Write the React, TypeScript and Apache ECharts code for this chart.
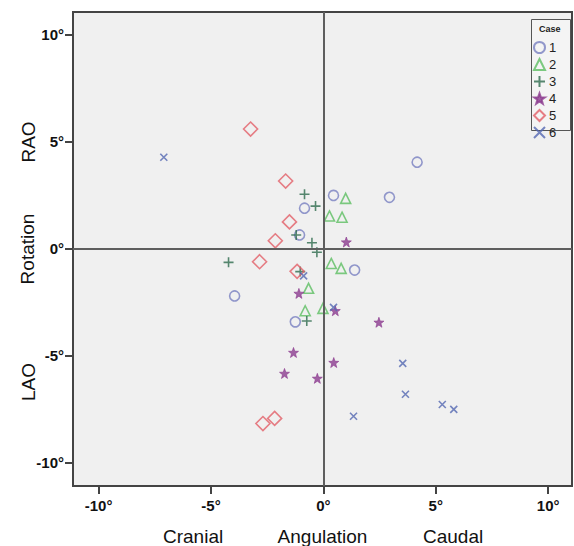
import React, { useEffect, useRef } from "react";
import * as echarts from "echarts";

const caseNames = ["1", "2", "3", "4", "5", "6"];
const tickValues = [-10, -5, 0, 5, 10];

const case1 = [[4.17, 4.05], [2.94, 2.41], [0.45, 2.5], [-0.84, 1.9], [-1.06, 0.65], [1.39, -0.99], [-3.95, -2.2], [-1.25, -3.41]];
const case2 = [[0.99, 2.36], [0.27, 1.54], [0.83, 1.48], [0.35, -0.68], [0.79, -0.91], [-0.66, -1.84], [-0.81, -2.89], [-0.02, -2.78]];
const case3 = [[-0.84, 2.55], [-0.35, 2.0], [-1.21, 0.65], [-0.51, 0.29], [-0.29, -0.16], [-4.22, -0.63], [-1.03, -1.06], [-0.74, -3.37]];
const case4 = [[1.02, 0.32], [-1.09, -2.08], [0.53, -2.89], [2.47, -3.43], [-1.33, -4.84], [-1.73, -5.82], [-0.27, -6.05], [0.46, -5.31]];
const case5 = [[-3.24, 5.6], [-1.68, 3.17], [-1.51, 1.26], [-2.14, 0.38], [-2.84, -0.6], [-1.17, -1.05], [-2.69, -8.16], [-2.17, -7.92]];
const case6 = [[-7.1, 4.28], [3.53, -5.35], [3.65, -6.79], [1.34, -7.82], [5.29, -7.27], [5.8, -7.5], [0.45, -2.73], [-0.88, -1.26]];

const caseData = [case1, case2, case3, case4, case5, case6];
const caseColors = ["#7880C0", "#5DBE62", "#2E6B4E", "#8C3C90", "#E25F68", "#5468B2"];
const caseSymbols = [
  "circle",
  "triangle",
  "path://M5,0L5,10M0,5L10,5",
  "path://M5,0L6.2,3.4L9.8,3.5L6.9,5.7L7.9,9.1L5,7.1L2.1,9.1L3.1,5.7L0.2,3.5L3.8,3.4Z",
  "diamond",
  "path://M0,0L10,10M10,0L0,10",
];
const caseSizes = [10, 10, 10, 10, 14, 7];
const caseFilled = [false, false, false, true, false, false];

const FONT = "Liberation Sans, Arial, sans-serif";

export default function App() {
  const ref = useRef<HTMLDivElement>(null);
  useEffect(() => {
    if (!ref.current) return;
    const chart = echarts.init(ref.current, null, { renderer: "svg" });
    const series: any[] = caseNames.map((name, i) => ({
      name,
      type: "scatter",
      data: caseData[i],
      symbol: caseSymbols[i],
      symbolSize: caseSizes[i],
      z: 3,
      itemStyle: caseFilled[i]
        ? { color: caseColors[i], borderColor: caseColors[i], borderWidth: 0.8 }
        : { color: "transparent", borderColor: caseColors[i], borderWidth: 1.6 },
    }));
    series.push({
      name: "ref",
      type: "scatter",
      data: [],
      z: 1,
      silent: true,
      markLine: {
        silent: true,
        symbol: "none",
        label: { show: false },
        lineStyle: { color: "#5E5E5E", width: 2, type: "solid" },
        data: [{ xAxis: 0 }, { yAxis: 0 }],
      },
    });
    chart.setOption({
      animation: false,
      backgroundColor: "#FFFFFF",
      textStyle: { fontFamily: FONT },
      grid: {
        left: 73,
        right: 2,
        top: 12,
        bottom: 60,
        containLabel: false,
        outerBoundsMode: "none",
        show: true,
        backgroundColor: "#F0F0F0",
        borderColor: "#444444",
        borderWidth: 2,
      },
      xAxis: {
        type: "value",
        min: -11.14,
        max: 11.06,
        name: "Angulation",
        nameLocation: "middle",
        nameGap: 41,
        nameTextStyle: { fontSize: 19, color: "#111", fontFamily: FONT },
        axisLine: { show: true, onZero: false, lineStyle: { color: "#444", width: 2 } },
        axisTick: { show: true, length: 8, customValues: tickValues, lineStyle: { color: "#444", width: 2 } },
        axisLabel: {
          customValues: tickValues,
          margin: 12,
          fontSize: 15,
          fontWeight: "bold",
          color: "#111",
          fontFamily: FONT,
          formatter: (v: number) => v + "°",
        },
        splitLine: { show: false },
      },
      yAxis: {
        type: "value",
        min: -11.08,
        max: 11.07,
        name: "Rotation",
        nameLocation: "middle",
        nameRotate: 90,
        nameGap: 36,
        nameMoveOverlap: false,
        nameTextStyle: { fontSize: 19, color: "#111", fontFamily: FONT },
        axisLine: { show: true, onZero: false, lineStyle: { color: "#444", width: 2 } },
        axisTick: { show: true, length: 8, customValues: tickValues, lineStyle: { color: "#444", width: 2 } },
        axisLabel: {
          customValues: tickValues,
          margin: 9,
          fontSize: 15,
          fontWeight: "bold",
          color: "#111",
          fontFamily: FONT,
          formatter: (v: number) => v + "°",
        },
        splitLine: { show: false },
      },
      legend: {
        data: caseNames,
        orient: "vertical",
        left: 532,
        top: 20,
        padding: [21, 4, 4, 1],
        itemWidth: 11,
        itemHeight: 11,
        itemGap: 4,
        textStyle: { fontSize: 13, color: "#222", fontFamily: FONT, padding: [0, 0, 0, -1] },
        z: 10,
      },
      graphic: [
        {
          type: "rect",
          left: 531,
          top: 19,
          z: 5,
          shape: { width: 39, height: 111 },
          style: { fill: "#F4F4F4", stroke: "#555", lineWidth: 1 },
        },
        {
          type: "text",
          left: 539,
          top: 24,
          z: 6,
          style: { text: "Case", fontSize: 9, fontWeight: "bold", fill: "#222", fontFamily: FONT },
        },
        {
          type: "text",
          left: 163,
          top: 527,
          style: { text: "Cranial", fontSize: 19, fill: "#111", fontFamily: FONT },
        },
        {
          type: "text",
          left: 423,
          top: 527,
          style: { text: "Caudal", fontSize: 19, fill: "#111", fontFamily: FONT },
        },
        {
          type: "text",
          x: 28,
          y: 142,
          rotation: Math.PI / 2,
          style: { text: "RAO", fontSize: 19, fill: "#111", fontFamily: FONT, align: "center", verticalAlign: "middle" },
        },
        {
          type: "text",
          x: 28,
          y: 382,
          rotation: Math.PI / 2,
          style: { text: "LAO", fontSize: 19, fill: "#111", fontFamily: FONT, align: "center", verticalAlign: "middle" },
        },
      ],
      series,
    });
    return () => chart.dispose();
  }, []);
  return (
    <div
      ref={ref}
      style={{ position: "absolute", left: 0, top: 0, width: 574, height: 546 }}
    />
  );
}
